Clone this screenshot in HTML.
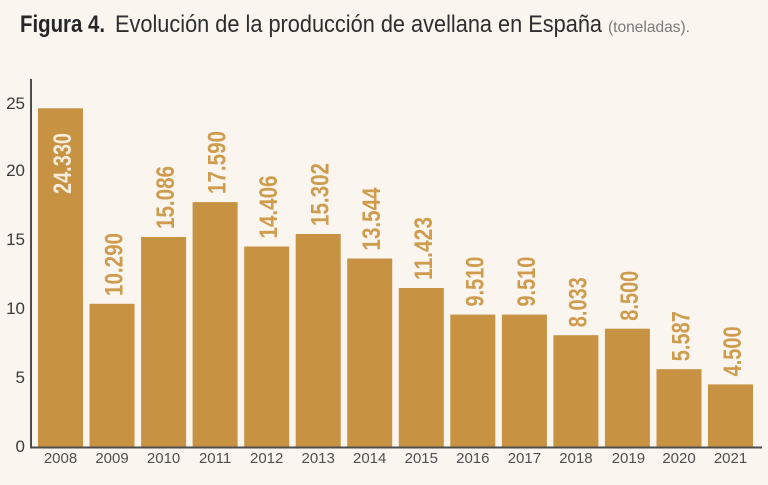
<!DOCTYPE html>
<html><head><meta charset="utf-8"><style>
html,body{margin:0;padding:0;background:#faf5ef;}
svg{display:block;}
</style></head><body>
<svg width="768" height="485" viewBox="0 0 768 485" xmlns="http://www.w3.org/2000/svg" font-family="Liberation Sans, sans-serif">
<rect x="0" y="0" width="768" height="485" fill="#faf5ef"/>
<text x="20" y="32" font-size="24" font-weight="bold" fill="#262626" textLength="85" lengthAdjust="spacingAndGlyphs">Figura 4.</text>
<text x="115" y="32" font-size="24" fill="#2e2e2e" textLength="487" lengthAdjust="spacingAndGlyphs">Evolución de la producción de avellana en España</text>
<text x="608" y="32" font-size="16" fill="#7a7a7a" textLength="82" lengthAdjust="spacingAndGlyphs">(toneladas).</text>
<g fill="#c79242">
<rect x="38" y="108.3" width="45" height="338.7"/>
<rect x="89.5" y="303.8" width="45" height="143.2"/>
<rect x="141.1" y="237" width="45" height="210"/>
<rect x="192.6" y="202.1" width="45" height="244.9"/>
<rect x="244.2" y="246.5" width="45" height="200.5"/>
<rect x="295.7" y="234" width="45" height="213"/>
<rect x="347.2" y="258.5" width="45" height="188.5"/>
<rect x="398.8" y="288" width="45" height="159"/>
<rect x="450.3" y="314.6" width="45" height="132.4"/>
<rect x="501.9" y="314.6" width="45" height="132.4"/>
<rect x="553.4" y="335.2" width="45" height="111.8"/>
<rect x="604.9" y="328.7" width="45" height="118.3"/>
<rect x="656.5" y="369.2" width="45" height="77.8"/>
<rect x="708" y="384.4" width="45" height="62.6"/>
</g>
<line x1="31" y1="79" x2="31" y2="448" stroke="#4d4d4d" stroke-width="2"/>
<line x1="30" y1="447.5" x2="762" y2="447.5" stroke="#4d4d4d" stroke-width="2"/>
<g font-size="17" fill="#3a3a3a" text-anchor="end">
<text x="25" y="109">25</text>
<text x="25" y="176">20</text>
<text x="25" y="245">15</text>
<text x="25" y="314">10</text>
<text x="25" y="383">5</text>
<text x="25" y="452">0</text>
</g>
<g font-size="15" fill="#4f4f4f" text-anchor="middle">
<text x="60.5" y="463">2008</text>
<text x="112" y="463">2009</text>
<text x="163.6" y="463">2010</text>
<text x="215.1" y="463">2011</text>
<text x="266.7" y="463">2012</text>
<text x="318.2" y="463">2013</text>
<text x="369.7" y="463">2014</text>
<text x="421.3" y="463">2015</text>
<text x="472.8" y="463">2016</text>
<text x="524.4" y="463">2017</text>
<text x="575.9" y="463">2018</text>
<text x="628.4" y="463">2019</text>
<text x="679" y="463">2020</text>
<text x="730.5" y="463">2021</text>
</g>
<g font-size="25" font-weight="bold" fill="#cf9b4c">
<text transform="translate(71,194) rotate(-90)" fill="#f7ecdc" textLength="61" lengthAdjust="spacingAndGlyphs">24.330</text>
<text transform="translate(122.5,296) rotate(-90)" textLength="63" lengthAdjust="spacingAndGlyphs">10.290</text>
<text transform="translate(174,229) rotate(-90)" textLength="63" lengthAdjust="spacingAndGlyphs">15.086</text>
<text transform="translate(225.6,194) rotate(-90)" textLength="63" lengthAdjust="spacingAndGlyphs">17.590</text>
<text transform="translate(277.1,238.5) rotate(-90)" textLength="63" lengthAdjust="spacingAndGlyphs">14.406</text>
<text transform="translate(328.7,226) rotate(-90)" textLength="63" lengthAdjust="spacingAndGlyphs">15.302</text>
<text transform="translate(380.2,250.5) rotate(-90)" textLength="63" lengthAdjust="spacingAndGlyphs">13.544</text>
<text transform="translate(431.8,280) rotate(-90)" textLength="63" lengthAdjust="spacingAndGlyphs">11.423</text>
<text transform="translate(483.3,306.6) rotate(-90)" textLength="50" lengthAdjust="spacingAndGlyphs">9.510</text>
<text transform="translate(534.9,306.6) rotate(-90)" textLength="50" lengthAdjust="spacingAndGlyphs">9.510</text>
<text transform="translate(586.4,327.2) rotate(-90)" textLength="50" lengthAdjust="spacingAndGlyphs">8.033</text>
<text transform="translate(637.9,320.7) rotate(-90)" textLength="50" lengthAdjust="spacingAndGlyphs">8.500</text>
<text transform="translate(689.5,361.2) rotate(-90)" textLength="50" lengthAdjust="spacingAndGlyphs">5.587</text>
<text transform="translate(741,376.4) rotate(-90)" textLength="50" lengthAdjust="spacingAndGlyphs">4.500</text>
</g>
</svg>
</body></html>
